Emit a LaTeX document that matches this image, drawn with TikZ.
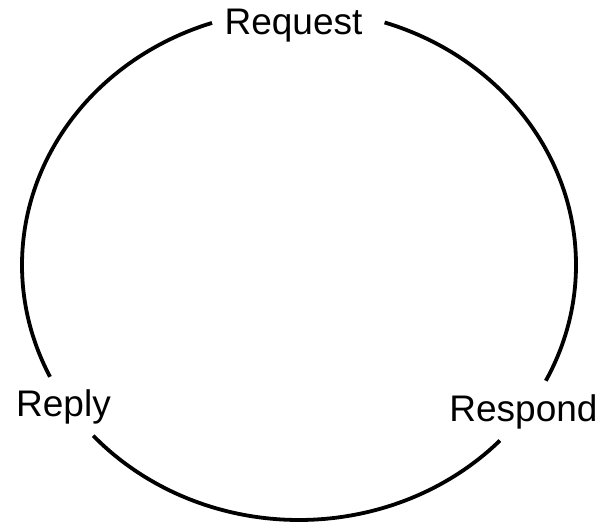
\documentclass[tikz,border=0pt]{standalone}
\usepackage{fontspec}
\setmainfont{Liberation Sans}
\usetikzlibrary{positioning}

\begin{document}
\begin{tikzpicture}[x=1pt,y=1pt]
\tikzset{
  phase/.style={anchor=base,inner sep=0pt,font=\fontsize{37}{42}\selectfont},
  ring/.style={line width=3.8pt},
  ringarc/.style={x radius=277pt,y radius=255pt}
}
\useasboundingbox (0,0) rectangle (604,524);
\coordinate (ctr) at (299,259);
\node[phase] (n_request) at (293.5,489) {Request};
\node[phase] (n_reply) at (63.5,107) {Reply};
\node[phase] (n_respond) at (523.5,102) {Respond};
% gap ends of the ring
\path (ctr) ++(72:277pt and 255pt) coordinate (p_req_r);
\path (ctr) ++(-27:277pt and 255pt) coordinate (p_resp_t);
\path (ctr) ++(-43.5:277pt and 255pt) coordinate (p_resp_b);
\path (ctr) ++(206:277pt and 255pt) coordinate (p_reply_t);
\draw[ring] (p_req_r) arc[ringarc,start angle=72,end angle=-27];
\draw[ring] (p_resp_b) arc[ringarc,start angle=-43.5,end angle=-138];
\draw[ring] (p_reply_t) arc[ringarc,start angle=206,end angle=108.3];
\end{tikzpicture}
\end{document}
